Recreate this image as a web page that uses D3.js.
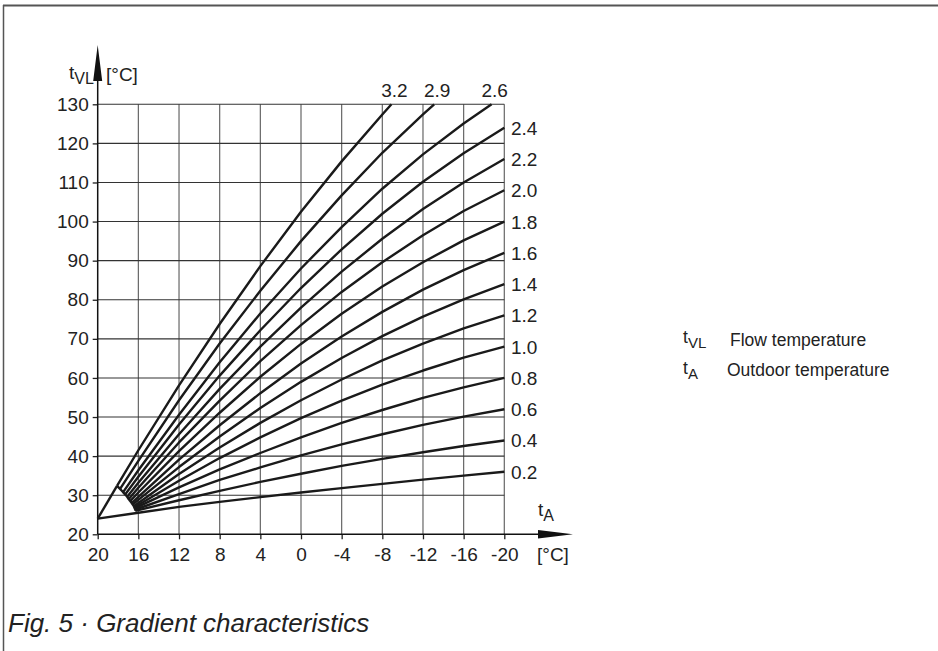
<!DOCTYPE html>
<html>
<head>
<meta charset="utf-8">
<script src="https://cdn.jsdelivr.net/npm/d3@7"></script>
<style>
  body { margin: 0; background: #fff; }
  svg text { font-family: "Liberation Sans", Arial, sans-serif; fill: #222; }
</style>
</head>
<body>
<svg id="chart" width="938" height="651"></svg>
<script>
// outdoor temperature grid (x) and flow temperature ticks (y)
const tA = [20, 16, 12, 8, 4, 0, -4, -8, -12, -16, -20]
const tVL = [20, 30, 40, 50, 60, 70, 80, 90, 100, 110, 120, 130]

// slopes, in the order they are drawn
const slopes = [0.2, 0.4, 0.6, 0.8, 1.0, 1.2, 1.4, 1.6, 1.8, 2.0, 2.2, 2.4, 2.6, 2.9, 3.2]

// where each curve begins (the little fan near 16..18 °C)
const startT = [20, 16.3, 16.3, 16.35, 16.4, 16.45, 16.55, 16.65, 16.8, 16.95, 17.1, 17.3, 17.5, 17.8, 18.1]
const startV = [24, 26.0, 26.3, 26.6, 26.9, 27.2, 27.6, 28.0, 28.5, 29.0, 29.6, 30.2, 30.8, 31.6, 32.4]

// flow temperature read at tA = 16, 12, 8 ... -20 (null = above 130)
const s02 = [25.5, 27.0, 28.3, 29.5, 30.7, 31.8, 32.9, 34.0, 35.0, 36.0]
const s04 = [26.2, 28.7, 31.1, 33.4, 35.5, 37.5, 39.3, 41.0, 42.6, 44.0]
const s06 = [26.6, 30.3, 33.9, 37.1, 40.2, 43.0, 45.6, 48.0, 50.1, 52.0]
const s08 = [27.1, 32.0, 36.6, 40.8, 44.8, 48.5, 51.8, 54.9, 57.6, 60.0]
const s10 = [27.5, 33.7, 39.5, 44.8, 49.7, 54.2, 58.3, 61.9, 65.2, 68.0]
const s12 = [28.0, 35.4, 42.2, 48.5, 54.3, 59.6, 64.5, 68.8, 72.7, 76.0]
const s14 = [28.8, 37.2, 45.0, 52.3, 59.0, 65.1, 70.7, 75.7, 80.1, 84.0]
const s16 = [29.6, 39.1, 47.9, 56.1, 63.7, 70.6, 76.9, 82.6, 87.6, 92.0]
const s18 = [30.7, 41.3, 51.1, 60.3, 68.7, 76.4, 83.4, 89.6, 95.2, 100.0]
const s20 = [31.9, 43.5, 54.2, 64.3, 73.5, 82.0, 89.6, 96.5, 102.7, 108.0]
const s22 = [33.2, 45.6, 57.2, 68.0, 78.0, 87.2, 95.6, 103.2, 110.0, 116.0]
const s24 = [34.7, 48.1, 60.6, 72.2, 83.0, 92.9, 102.0, 110.2, 117.5, 124.0]
const s26 = [36.4, 50.6, 64.0, 76.5, 88.0, 98.6, 108.4, 117.2, 125.1, null]
const s29 = [38.8, 54.3, 68.8, 82.3, 95.0, 106.7, 117.6, 127.4, null, null]
const s32 = [41.5, 58.1, 73.8, 88.6, 102.5, 115.4, 127.4, null, null, null]
const series = [s02, s04, s06, s08, s10, s12, s14, s16, s18, s20, s22, s24, s26, s29, s32]

// outdoor temperature where the steep curves leave the top (130 °C)
const topLabels = ['2.6', '2.9', '3.2']
const topExitT = [-18.75, -13.1, -8.9]

const svg = d3.select('#chart')

const x = d3.scaleLinear().domain([20, -20]).range([97.7, 504.3])
const y = d3.scaleLinear().domain([20, 130]).range([534.3, 104.3])

// frame
svg.append('line').attr('x1', 3).attr('x2', 938).attr('y1', 5.5).attr('y2', 5.5)
    .attr('stroke', '#555').attr('stroke-width', 2)
svg.append('line').attr('x1', 3.5).attr('x2', 3.5).attr('y1', 5).attr('y2', 651)
    .attr('stroke', '#555').attr('stroke-width', 1.5)

// grid
const grid = svg.append('g')
grid.selectAll('.v').data(tA.slice(1)).enter().append('line')
    .attr('x1', d => x(d)).attr('x2', d => x(d))
    .attr('y1', y(20)).attr('y2', y(130))
    .attr('stroke', '#666').attr('stroke-width', 1.2)
grid.selectAll('.h').data(tVL.slice(1)).enter().append('line')
    .attr('x1', x(20)).attr('x2', x(-20))
    .attr('y1', d => y(d)).attr('y2', d => y(d))
    .attr('stroke', '#333').attr('stroke-width', 1.1)

// axes
const fmt = d => String(d)
const yAxis = d3.axisLeft(y).tickValues(tVL).tickFormat(fmt).tickSize(5).tickPadding(4)
const xAxis = d3.axisBottom(x).tickValues(tA).tickFormat(fmt).tickSize(5).tickPadding(7)

const gy = svg.append('g').attr('transform', `translate(${x(20)},0)`).call(yAxis)
const gx = svg.append('g').attr('transform', `translate(0,${y(20)})`).call(xAxis)
for (const g of [gx, gy]) {
    g.select('.domain').remove()
    g.selectAll('line').attr('stroke', '#222').attr('stroke-width', 1.3)
    g.selectAll('text').attr('font-size', 19).attr('font-family', '"Liberation Sans", Arial, sans-serif').attr('fill', '#222')
}
gx.selectAll('text').attr('dy', '0.75em')

// axis lines with arrow heads
svg.append('line').attr('x1', x(20)).attr('x2', x(20)).attr('y1', y(20)).attr('y2', 70)
    .attr('stroke', '#111').attr('stroke-width', 1.5)
svg.append('path')
    .attr('d', `M${x(20)},45 L${x(20) + 4.5},81 L${x(20) - 4.5},81 Z`).attr('fill', '#111')
svg.append('line').attr('x1', x(20)).attr('x2', 550).attr('y1', y(20)).attr('y2', y(20))
    .attr('stroke', '#111').attr('stroke-width', 1.5)
svg.append('path')
    .attr('d', `M573,${y(20)} L538,${y(20) - 4.2} L538,${y(20) + 4.2} Z`).attr('fill', '#111')

// axis titles
const ty = svg.append('text').attr('x', 69).attr('y', 79).attr('font-size', 19)
ty.append('tspan').text('t')
ty.append('tspan').attr('dy', 5).attr('font-size', 16).text('VL')
svg.append('text').attr('x', 106).attr('y', 81).attr('font-size', 19).text('[°C]')

const tx = svg.append('text').attr('x', 538).attr('y', 516).attr('font-size', 19)
tx.append('tspan').text('t')
tx.append('tspan').attr('dy', 5).attr('font-size', 16).text('A')
svg.append('text').attr('x', 537).attr('y', 561).attr('font-size', 19).text('[°C]')

// curves
const line = d3.line().x(d => x(d[0])).y(d => y(d[1]))
const gridT = tA.slice(1)
const curves = series.map((vals, i) => {
    const pts = [[startT[i], startV[i]]]
    vals.forEach((v, j) => {
        if (v !== null && gridT[j] < startT[i]) pts.push([gridT[j], v])
    })
    const k = topLabels.indexOf(String(slopes[i]))
    if (k >= 0) pts.push([topExitT[k], 130])
    return pts
})

svg.append('g').selectAll('path').data(curves).enter().append('path')
    .attr('d', line)
    .attr('fill', 'none').attr('stroke', '#1a1a1a').attr('stroke-width', 2.4)
    .attr('stroke-linejoin', 'round')

// fan: edge from 20 °C to the steepest start, and the arc of start points
svg.append('path')
    .attr('d', line([[startT[0], startV[0]], [startT[14], startV[14]]]))
    .attr('fill', 'none').attr('stroke', '#1a1a1a').attr('stroke-width', 2.4)
const arc = d3.range(14, 0, -1).map(i => [startT[i], startV[i]])
svg.append('path')
    .attr('d', d3.line().x(d => x(d[0])).y(d => y(d[1])).curve(d3.curveCatmullRom)(arc))
    .attr('fill', 'none').attr('stroke', '#1a1a1a').attr('stroke-width', 2.4)

// slope labels, right side
svg.append('g').selectAll('text').data(series.slice(0, 12)).enter().append('text')
    .attr('x', 511).attr('y', d => y(d[d.length - 1]) + 7)
    .attr('font-size', 19)
    .text((d, i) => slopes[i].toFixed(1))

// slope labels, top
svg.append('g').selectAll('text').data(topLabels).enter().append('text')
    .attr('x', (d, i) => x(topExitT[i]) + 3).attr('y', 97)
    .attr('text-anchor', 'middle').attr('font-size', 19)
    .text(d => d)

// legend
const legend = [['VL', 'Flow temperature'], ['A', 'Outdoor temperature']]
const lg = svg.append('g').selectAll('g').data(legend).enter().append('g')
lg.each(function (d, i) {
    const g = d3.select(this)
    const t = g.append('text').attr('x', 683).attr('y', 343 + i * 31).attr('font-size', 17.5)
    t.append('tspan').text('t')
    t.append('tspan').attr('dy', 5).attr('font-size', 15).text(d[0])
    g.append('text').attr('x', i ? 727 : 730).attr('y', 346 + i * 30).attr('font-size', 17.5).text(d[1])
})

// caption
svg.append('text').attr('x', 8).attr('y', 632).attr('font-size', 26)
    .attr('font-style', 'italic').attr('fill', '#333')
    .text('Fig. 5 · Gradient characteristics')
</script>
</body>
</html>
